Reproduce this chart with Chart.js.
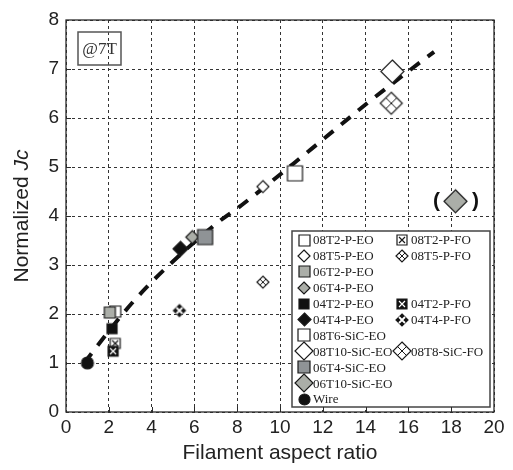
<!DOCTYPE html>
<html>
<head>
<meta charset="utf-8">
<script src="https://cdn.jsdelivr.net/npm/chart.js@4/dist/chart.umd.min.js"></script>
<style>body{margin:0;background:#fff}</style>
</head>
<body>
<canvas id="jcChart" width="513" height="470"></canvas>
<script>
// sample names, in legend order
const names = [
  '08T2-P-EO', '08T5-P-EO', '06T2-P-EO', '06T4-P-EO', '04T2-P-EO', '04T4-P-EO',
  '08T6-SiC-EO', '08T10-SiC-EO', '06T4-SiC-EO', '06T10-SiC-EO', 'Wire',
  '08T2-P-FO', '08T5-P-FO', '04T2-P-FO', '04T4-P-FO', '08T8-SiC-FO'
];
// filament aspect ratio
const aspect = [2.3, 9.2, 2.05, 5.9, 2.15, 5.35, 10.7, 15.25, 6.5, 18.2, 1.0, 2.3, 9.2, 2.2, 5.3, 15.2];
// normalized Jc
const jc = [2.05, 4.6, 2.03, 3.57, 1.7, 3.33, 4.87, 6.95, 3.57, 4.3, 1.0, 1.4, 2.65, 1.24, 2.07, 6.3];
// dashed guide line
const fitX = [0.85, 2.0, 3.2, 4.7, 7.1, 8.2, 11.5, 14.1, 16.2, 17.2];
const fitY = [1.0, 1.65, 2.28, 2.95, 3.87, 4.22, 5.38, 6.31, 7.02, 7.35];

const GRAY = '#abaea8';
const DGRAY = '#8f9396';

// marker look per series: shape, size on plot, fill, size in legend
const look = {
  '08T2-P-EO': ['square', 11, '#fff', 11],
  '08T5-P-EO': ['diamond', 12, '#fff', 12],
  '06T2-P-EO': ['square', 11, GRAY, 11],
  '06T4-P-EO': ['diamond', 13, GRAY, 12],
  '04T2-P-EO': ['square', 10, '#111', 10],
  '04T4-P-EO': ['diamond', 15, '#111', 13],
  '08T6-SiC-EO': ['square', 15, '#fff', 12],
  '08T10-SiC-EO': ['diamond', 23, '#fff', 18],
  '06T4-SiC-EO': ['square', 15, DGRAY, 12],
  '06T10-SiC-EO': ['diamond', 23, GRAY, 18],
  'Wire': ['circle', 12, '#111', 11],
  '08T2-P-FO': ['squareX', 10, '#fff', 10],
  '08T5-P-FO': ['diamondCross', 12, '#fff', 12],
  '04T2-P-FO': ['squareX', 10, '#111', 10],
  '04T4-P-FO': ['diamond4', 12, '#111', 12],
  '08T8-SiC-FO': ['diamondCross', 22, '#fff', 18]
};

// legend slot: [column, row]
const slots = {
  '08T2-P-EO': [0, 0], '08T5-P-EO': [0, 1], '06T2-P-EO': [0, 2], '06T4-P-EO': [0, 3],
  '04T2-P-EO': [0, 4], '04T4-P-EO': [0, 5], '08T6-SiC-EO': [0, 6], '08T10-SiC-EO': [0, 7],
  '06T4-SiC-EO': [0, 8], '06T10-SiC-EO': [0, 9], 'Wire': [0, 10],
  '08T2-P-FO': [1, 0], '08T5-P-FO': [1, 1], '04T2-P-FO': [1, 4], '04T4-P-FO': [1, 5], '08T8-SiC-FO': [1, 7]
};

function makeMarker(shape, size, fill) {
  const pad = 2;
  const c = document.createElement('canvas');
  c.width = c.height = size + pad * 2;
  const g = c.getContext('2d');
  const m = c.width / 2, h = size / 2;
  g.lineWidth = 1.2;
  g.strokeStyle = '#1a1a1a';
  g.fillStyle = fill;
  g.beginPath();
  if (shape.startsWith('square')) {
    g.rect(m - h, m - h, size, size);
  } else if (shape === 'circle') {
    g.arc(m, m, h, 0, Math.PI * 2);
  } else {
    g.moveTo(m, m - h); g.lineTo(m + h, m); g.lineTo(m, m + h); g.lineTo(m - h, m); g.closePath();
  }
  g.fill();
  g.stroke();
  if (shape === 'squareX') {
    const d = h - 2;
    g.strokeStyle = fill === '#fff' ? '#1a1a1a' : '#fff';
    g.lineWidth = 1.2;
    g.beginPath();
    g.moveTo(m - d, m - d); g.lineTo(m + d, m + d);
    g.moveTo(m + d, m - d); g.lineTo(m - d, m + d);
    g.stroke();
  }
  if (shape === 'diamondCross' || shape === 'diamond4') {
    g.strokeStyle = shape === 'diamond4' ? '#fff' : '#1a1a1a';
    g.lineWidth = shape === 'diamond4' ? 1.8 : 1;
    g.beginPath();
    g.moveTo(m + h / 2, m - h / 2); g.lineTo(m - h / 2, m + h / 2);
    g.moveTo(m - h / 2, m - h / 2); g.lineTo(m + h / 2, m + h / 2);
    g.stroke();
  }
  return c;
}

const plotMarkers = {}, legendMarkers = {};
names.forEach(n => {
  const [shape, size, fill, lsize] = look[n];
  plotMarkers[n] = makeMarker(shape, size, fill);
  legendMarkers[n] = makeMarker(shape, lsize, fill);
});

const datasets = names.map((n, i) => ({
  type: 'scatter',
  label: n,
  data: [{ x: aspect[i], y: jc[i] }],
  pointStyle: plotMarkers[n],
  pointRadius: 6,
  order: -i
}));
datasets.push({
  type: 'line',
  label: 'fit',
  data: fitX.map((x, i) => ({ x: x, y: fitY[i] })),
  borderColor: '#111',
  borderWidth: 4,
  borderDash: [12, 10],
  pointRadius: 0,
  cubicInterpolationMode: 'monotone',
  fill: false,
  order: 100
});

const extras = {
  id: 'extras',
  afterDraw(chart) {
    const { ctx, chartArea: { left, right, top, bottom }, scales: { x, y } } = chart;
    ctx.save();

    // frame
    ctx.strokeStyle = '#2a2a2a';
    ctx.lineWidth = 1.3;
    ctx.setLineDash([]);
    ctx.strokeRect(left, top, right - left, bottom - top);

    // legend box
    const lx = 292, ly = 231, lw = 198, lh = 176;
    ctx.fillStyle = '#fff';
    ctx.fillRect(lx, ly, lw, lh);
    ctx.strokeStyle = '#444';
    ctx.lineWidth = 1.5;
    ctx.strokeRect(lx, ly, lw, lh);

    // inner ticks
    ctx.strokeStyle = '#2a2a2a';
    ctx.lineWidth = 1;
    ctx.beginPath();
    for (let v = 2; v < 20; v += 2) {
      const px = Math.round(x.getPixelForValue(v)) + 0.5;
      ctx.moveTo(px, bottom); ctx.lineTo(px, bottom - 5);
    }
    for (let v = 1; v < 8; v++) {
      const py = Math.round(y.getPixelForValue(v)) + 0.5;
      ctx.moveTo(left, py); ctx.lineTo(left + 5, py);
    }
    ctx.stroke();

    ctx.font = '13px "Liberation Serif"';
    ctx.fillStyle = '#222';
    ctx.textBaseline = 'middle';
    ctx.textAlign = 'left';
    names.forEach(n => {
      const [col, row] = slots[n];
      const my = ly + 9 + row * 15.9;
      const mx = col === 0 ? 304 : 402;
      const img = legendMarkers[n];
      ctx.drawImage(img, Math.round(mx - img.width / 2), Math.round(my - img.height / 2));
      ctx.fillText(n, col === 0 ? 313 : 411, my + 1);
    });

    // @7T box
    ctx.strokeStyle = '#555';
    ctx.lineWidth = 1.5;
    ctx.strokeRect(78, 32, 43, 33);
    ctx.font = '17px "Liberation Serif"';
    ctx.fillStyle = '#333';
    ctx.textAlign = 'center';
    ctx.fillText('@7T', 99.5, 49.5);

    // parentheses around the 06T10-SiC-EO point
    const k = names.indexOf('06T10-SiC-EO');
    const bx = x.getPixelForValue(aspect[k]), by = y.getPixelForValue(jc[k]);
    ctx.font = 'bold 21px "Liberation Sans"';
    ctx.fillStyle = '#111';
    ctx.fillText('(', bx - 19, by);
    ctx.fillText(')', bx + 20, by);

    // y axis title with italic Jc
    ctx.translate(22, (top + bottom) / 2);
    ctx.rotate(-Math.PI / 2);
    ctx.fillStyle = '#222';
    ctx.textAlign = 'left';
    const f1 = '21px "Liberation Sans"', f2 = 'italic 21px "Liberation Sans"';
    ctx.font = f1;
    const w1 = ctx.measureText('Normalized ').width;
    ctx.font = f2;
    const w2 = ctx.measureText('Jc').width;
    ctx.font = f1;
    ctx.fillText('Normalized ', -(w1 + w2) / 2, 0);
    ctx.font = f2;
    ctx.fillText('Jc', -(w1 + w2) / 2 + w1, 0);
    ctx.restore();
  }
};

const tickFont = { family: 'Liberation Sans', size: 19 };

new Chart(document.getElementById('jcChart'), {
  type: 'scatter',
  data: { datasets: datasets },
  options: {
    responsive: false,
    animation: false,
    devicePixelRatio: 1,
    layout: { padding: { top: 20, right: 19, left: 0, bottom: 0 } },
    plugins: { legend: { display: false }, tooltip: { enabled: false } },
    scales: {
      x: {
        type: 'linear',
        min: 0, max: 20,
        ticks: { stepSize: 2, color: '#222', font: tickFont, padding: 4 },
        grid: { color: '#333', lineWidth: 1, drawTicks: false },
        border: { display: false, dash: [3, 3] },
        title: { display: true, text: 'Filament aspect ratio', color: '#222',
          font: { family: 'Liberation Sans', size: 21 }, padding: { top: 0, bottom: 4 } },
        afterFit(s) { s.height = 58; }
      },
      y: {
        type: 'linear',
        min: 0, max: 8,
        ticks: { stepSize: 1, color: '#222', font: tickFont, padding: 7 },
        grid: { color: '#333', lineWidth: 1, drawTicks: false },
        border: { display: false, dash: [3, 3] },
        afterFit(s) { s.width = 66; }
      }
    }
  },
  plugins: [extras]
});
</script>
</body>
</html>
